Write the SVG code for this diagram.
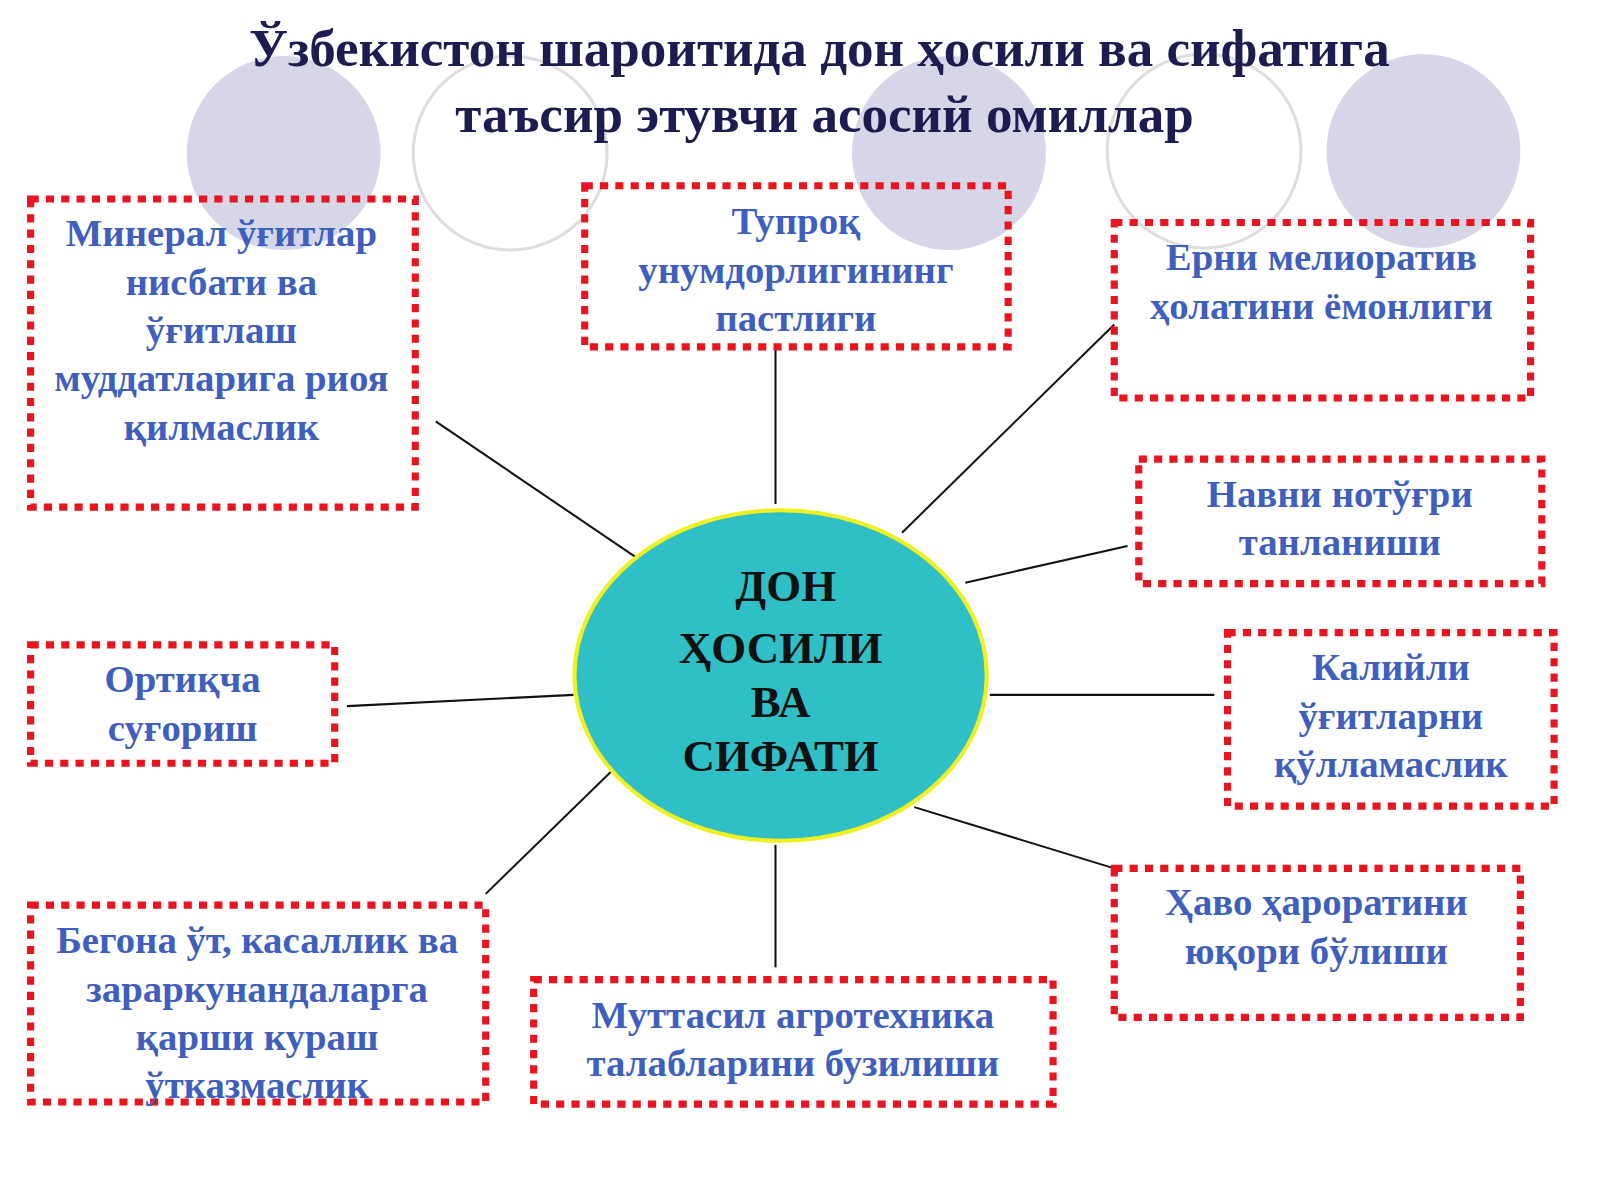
<svg xmlns="http://www.w3.org/2000/svg" width="1600" height="1200" viewBox="0 0 1600 1200">
<style>
.box{fill:none;stroke:#e8141e;stroke-width:7;stroke-dasharray:8 7}
.t{font-family:"Liberation Serif",serif;font-weight:bold;font-size:38px;fill:#3f5fbf;text-anchor:middle}
.ttl{font-family:"Liberation Serif",serif;font-weight:bold;font-size:52px;fill:#1c1c50;text-anchor:middle}
.c{font-family:"Liberation Serif",serif;font-weight:bold;font-size:44px;fill:#111;text-anchor:middle}
</style>
<rect width="1600" height="1200" fill="#fff"/>
<g transform="scale(1.0204)">
<g id="bg">
<circle cx="278" cy="150" r="95" fill="#d6d6e8"/>
<circle cx="930" cy="150" r="95" fill="#d6d6e8"/>
<circle cx="1395" cy="148" r="95" fill="#d6d6e8"/>
<circle cx="500" cy="150" r="95" fill="none" stroke="#ddd" stroke-width="3"/>
<circle cx="1180" cy="148" r="95" fill="none" stroke="#ddd" stroke-width="3"/>
</g>
<g id="title">
<text class="ttl" x="803" y="65">Ўзбекистон шароитида дон ҳосили ва сифатига</text>
<text class="ttl" x="808" y="129">таъсир этувчи асосий омиллар</text>
</g>
<g id="connectors" stroke="#111" stroke-width="2">
<line x1="427" y1="413" x2="623" y2="546"/>
<line x1="760" y1="343" x2="760" y2="494"/>
<line x1="1092" y1="318" x2="884" y2="522"/>
<line x1="1105" y1="535" x2="946" y2="571"/>
<line x1="340" y1="692" x2="562" y2="681"/>
<line x1="970" y1="681" x2="1190" y2="681"/>
<line x1="600" y1="755" x2="476" y2="876"/>
<line x1="760" y1="828" x2="760" y2="948"/>
<line x1="896" y1="791" x2="1092" y2="851"/>
</g>
<g id="center">
<ellipse cx="765" cy="662" rx="202" ry="162" fill="#2fbfc6" stroke="#f0f020" stroke-width="4"/>
<text class="c" x="770" y="589">ДОН</text>
<text class="c" x="765" y="650">ҲОСИЛИ</text>
<text class="c" x="765" y="703">ВА</text>
<text class="c" x="765" y="756">СИФАТИ</text>
</g>
<g id="n1"><rect class="box" x="30" y="195" width="377" height="302"/>
<text class="t" x="217" y="241">Минерал ўғитлар</text><text class="t" x="217" y="289">нисбати ва</text><text class="t" x="217" y="336">ўғитлаш</text><text class="t" x="217" y="383">муддатларига риоя</text><text class="t" x="217" y="431">қилмаслик</text></g>
<g id="n2"><rect class="box" x="573" y="182" width="415" height="158"/>
<text class="t" x="780" y="229">Тупроқ</text><text class="t" x="780" y="277">унумдорлигининг</text><text class="t" x="780" y="324">пастлиги</text></g>
<g id="n3"><rect class="box" x="1092" y="218" width="408" height="172"/>
<text class="t" x="1295" y="265">Ерни мелиоратив</text><text class="t" x="1295" y="313">ҳолатини ёмонлиги</text></g>
<g id="n4"><rect class="box" x="1116" y="450" width="395" height="122"/>
<text class="t" x="1313" y="497">Навни нотўғри</text><text class="t" x="1313" y="544">танланиши</text></g>
<g id="n5"><rect class="box" x="30" y="632" width="298" height="116"/>
<text class="t" x="179" y="678">Ортиқча</text><text class="t" x="179" y="726">суғориш</text></g>
<g id="n6"><rect class="box" x="1203" y="620" width="320" height="170"/>
<text class="t" x="1363" y="666">Калийли</text><text class="t" x="1363" y="714">ўғитларни</text><text class="t" x="1363" y="761">қўлламаслик</text></g>
<g id="n7"><rect class="box" x="30" y="887" width="446" height="193"/>
<text class="t" x="252" y="934">Бегона ўт, касаллик ва</text><text class="t" x="252" y="982">зараркунандаларга</text><text class="t" x="252" y="1029">қарши кураш</text><text class="t" x="252" y="1076">ўтказмаслик</text></g>
<g id="n8"><rect class="box" x="523" y="960" width="509" height="122"/>
<text class="t" x="777" y="1007">Муттасил агротехника</text><text class="t" x="777" y="1054">талабларини бузилиши</text></g>
<g id="n9"><rect class="box" x="1092" y="851" width="398" height="146"/>
<text class="t" x="1290" y="897">Ҳаво ҳароратини</text><text class="t" x="1290" y="945">юқори бўлиши</text></g>
</g>
</svg>
